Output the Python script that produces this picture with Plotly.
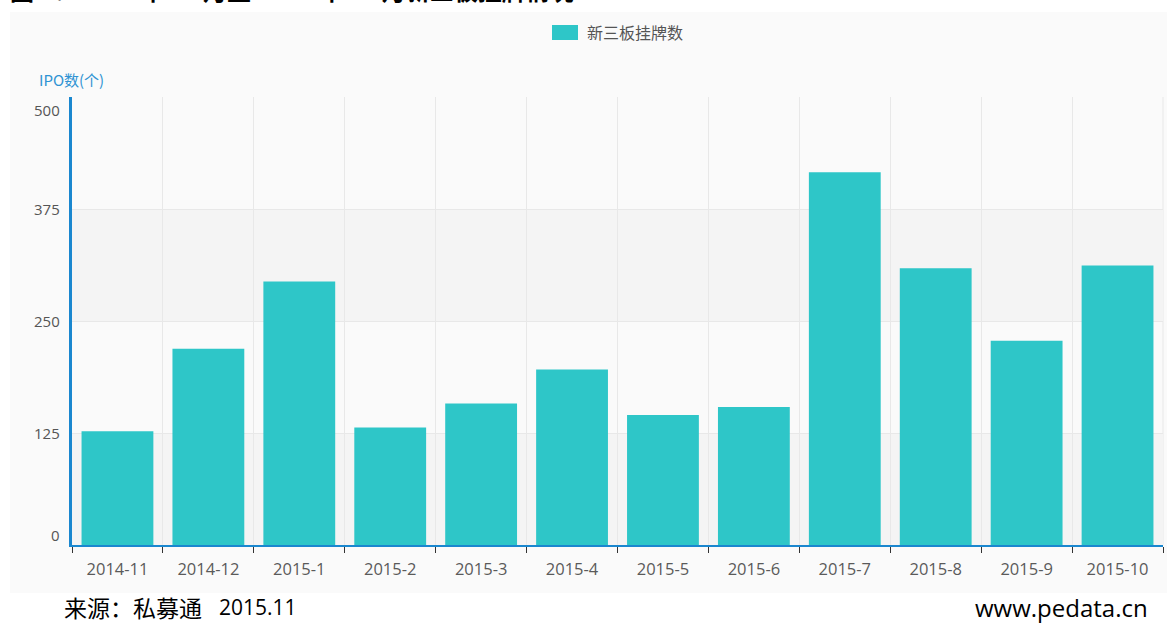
import plotly.graph_objects as go

categories = ["2014-11", "2014-12", "2015-1", "2015-2", "2015-3", "2015-4",
              "2015-5", "2015-6", "2015-7", "2015-8", "2015-9", "2015-10"]
listings = [127, 219, 294, 131, 158, 196, 145, 154, 416, 309, 228, 312]
series_name = "新三板挂牌数"
y_ticks = [0, 125, 250, 375, 500]
y_title = "IPO数(个)"
title = "图 3：2014 年 11 月至 2015 年 10 月新三板挂牌情况"
source_text = "来源：私募通"
source_date = "2015.11"
site = "www.pedata.cn"

BAR = "#2ec6c8"
AXIS = "#1a87cf"
CJK = "Noto Sans CJK SC"
LAT = "Open Sans"

# plot area in pixels (for converting page positions of decorations)
W, H = 1171, 625
L, R, T, B = 72, 8, 97, 80
PW, PH = W - L - R, H - T - B


def px(x):
    return (x - L) / PW


def py(y):
    return (H - B - y) / PH


fig = go.Figure()
fig.add_trace(go.Bar(x=categories, y=listings, name=series_name,
                     marker=dict(color=BAR, line=dict(width=0)), showlegend=False))

shapes = [
    dict(type="rect", xref="paper", yref="paper", x0=px(10), x1=px(1167), y0=py(593), y1=py(12),
         fillcolor="#fafafa", line=dict(width=0), layer="below"),
    dict(type="line", xref="paper", yref="paper", x0=1, x1=1, y0=0, y1=1,
         line=dict(color="#e8e8e8", width=1), layer="below"),
    # legend swatch
    dict(type="rect", xref="paper", yref="paper", x0=px(552), x1=px(578), y0=py(40), y1=py(25),
         fillcolor=BAR, line=dict(width=0)),
]
for lo, hi in [(0, 125), (250, 375)]:
    shapes.append(dict(type="rect", xref="paper", yref="y", x0=0, x1=1, y0=lo, y1=hi,
                       fillcolor="#f4f4f4", line=dict(width=0), layer="below"))

annotations = [
    dict(text=series_name, xref="paper", yref="paper", x=px(585), y=py(32),
         xanchor="left", yanchor="middle", showarrow=False,
         font=dict(size=16, color="#555", family=CJK)),
    dict(text=y_title, xref="paper", yref="paper", x=px(37), y=py(80),
         xanchor="left", yanchor="middle", showarrow=False,
         font=dict(size=15, color="#2f93d3", family=CJK)),
    dict(text="<b>" + title + "</b>", xref="paper", yref="paper", x=px(8), y=py(9),
         xanchor="left", yanchor="bottom", showarrow=False,
         font=dict(size=24, color="#000", family=CJK)),
    dict(text=source_text, xref="paper", yref="paper", x=px(62), y=py(607),
         xanchor="left", yanchor="middle", showarrow=False,
         font=dict(size=23, color="#000", family=CJK)),
    dict(text=source_date, xref="paper", yref="paper", x=px(217), y=py(607),
         xanchor="left", yanchor="middle", showarrow=False,
         font=dict(size=21, color="#000", family=LAT)),
    dict(text=site, xref="paper", yref="paper", x=px(1150), y=py(607),
         xanchor="right", yanchor="middle", showarrow=False,
         font=dict(size=24, color="#000", family=LAT)),
]
# y tick labels (end labels nudged inside the plot like the original)
for v in y_ticks:
    shift = 0
    if v == y_ticks[0]:
        shift = 10
    elif v == y_ticks[-1]:
        shift = -13
    annotations.append(dict(text=str(v), xref="paper", yref="y", x=0, y=v, xshift=-10,
                            yshift=shift, xanchor="right", yanchor="middle", showarrow=False,
                            font=dict(size=15, color="#555", family=LAT)))

fig.update_layout(
    width=W, height=H,
    margin=dict(l=L, r=R, t=T, b=B),
    paper_bgcolor="white",
    plot_bgcolor="#fdfdfd",
    font=dict(family=LAT, size=15, color="#555"),
    bargap=0.21,
    shapes=shapes,
    annotations=annotations,
    xaxis=dict(
        type="category", tickson="boundaries", showgrid=True, gridcolor="#e8e8e8",
        gridwidth=1, showline=True, linecolor=AXIS, linewidth=2,
        ticks="outside", ticklen=6, tickcolor="#333", tickwidth=1,
        ticklabelstandoff=8,
        tickfont=dict(size=16.5, color="#5a5a5a", family=LAT), zeroline=False,
    ),
    yaxis=dict(
        range=[0, 500], tickvals=y_ticks, showticklabels=False,
        showgrid=True, gridcolor="#e8e8e8", gridwidth=1,
        showline=True, linecolor=AXIS, linewidth=3, zeroline=False, ticks="",
    ),
)

fig.write_html("out.html", config={"displayModeBar": False},
               post_script="document.body.style.margin='0px';")
